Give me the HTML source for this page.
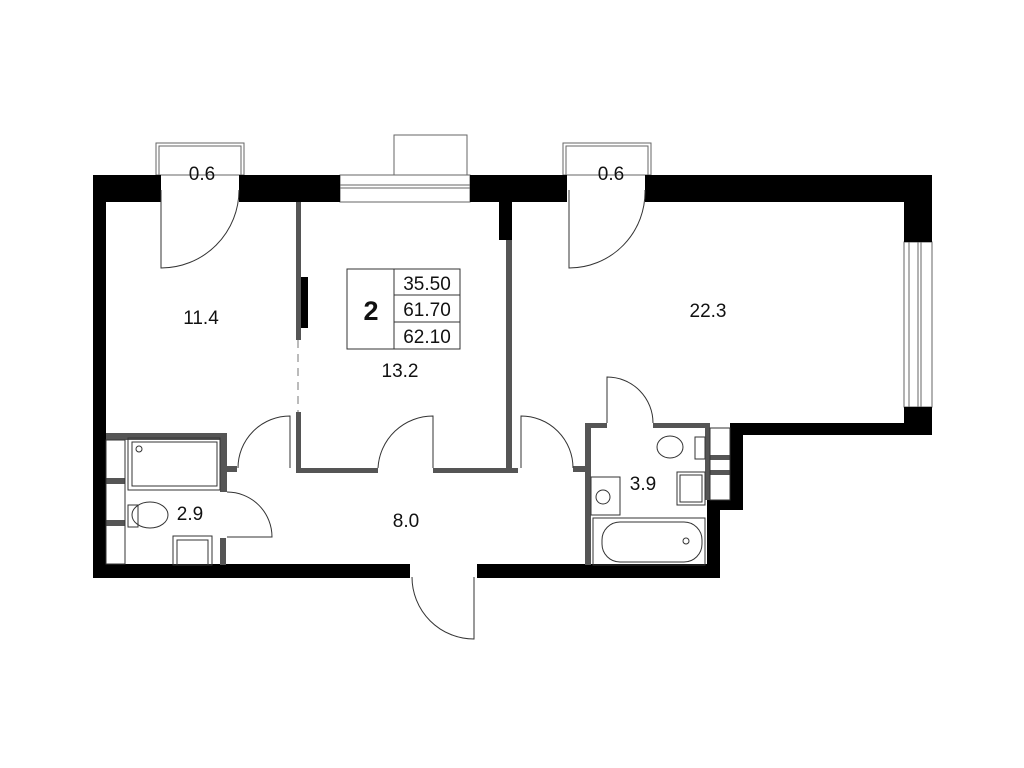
<!DOCTYPE html>
<html><head><meta charset="utf-8"><style>
html,body{margin:0;padding:0;background:#fff;width:1024px;height:768px;overflow:hidden}
text{font-family:"Liberation Sans",sans-serif;font-size:19px;fill:#111;text-anchor:middle}
</style></head><body>
<svg width="1024" height="768" viewBox="0 0 1024 768" xmlns="http://www.w3.org/2000/svg">
<g fill="none" stroke="#666" stroke-width="1">
<rect x="156" y="143" width="88" height="32"/><rect x="159" y="146" width="82" height="29"/>
<rect x="563" y="143" width="88" height="32"/><rect x="566" y="146" width="82" height="29"/>
<rect x="394" y="135" width="73" height="40"/>
<rect x="340" y="175" width="130" height="27"/>
<line x1="340" y1="185" x2="470" y2="185"/><line x1="340" y1="188" x2="470" y2="188"/>
<rect x="904" y="242" width="28" height="165"/>
<line x1="909" y1="242" x2="909" y2="407"/><line x1="918" y1="242" x2="918" y2="407"/><line x1="921" y1="242" x2="921" y2="407"/>
</g>
<g fill="#000">
<rect x="93" y="175" width="13" height="403"/>
<rect x="93" y="175" width="68" height="27"/>
<rect x="239" y="175" width="101" height="27"/>
<rect x="470" y="175" width="97" height="27"/>
<rect x="499" y="202" width="13" height="38"/>
<rect x="645" y="175" width="287" height="27"/>
<rect x="904" y="175" width="28" height="67"/>
<rect x="904" y="407" width="28" height="28"/>
<rect x="730" y="423" width="202" height="12"/>
<rect x="730" y="423" width="13" height="87"/>
<rect x="707" y="500" width="36" height="10"/>
<rect x="707" y="500" width="13" height="78"/>
<rect x="93" y="564" width="317" height="14"/>
<rect x="477" y="564" width="243" height="14"/>
<rect x="296" y="277" width="12" height="51"/>
</g>
<g fill="#555">
<rect x="296" y="202" width="5" height="138"/>
<rect x="296" y="412" width="5" height="61"/>
<rect x="296" y="468" width="82" height="5"/>
<rect x="433" y="468" width="85" height="5"/>
<rect x="506" y="240" width="6" height="233"/>
<rect x="106" y="433" width="121" height="7"/>
<rect x="220" y="433" width="7" height="59"/>
<rect x="227" y="466" width="10" height="6"/>
<rect x="220" y="538" width="6" height="27"/>
<rect x="573" y="466" width="12" height="6"/>
<rect x="585" y="423" width="6" height="142"/>
<rect x="585" y="423" width="22" height="5"/>
<rect x="653" y="423" width="54" height="5"/>
<rect x="705" y="423" width="5" height="77"/>
<rect x="106" y="478" width="19" height="6"/>
<rect x="106" y="520" width="19" height="6"/>
<rect x="710" y="455" width="20" height="5"/>
<rect x="710" y="470" width="20" height="5"/>
</g>
<line x1="298" y1="340" x2="298" y2="412" stroke="#777" stroke-width="1" stroke-dasharray="8,6"/>
<g fill="none" stroke="#333" stroke-width="1">
<path d="M161 190 V268 A78 78 0 0 0 239 190"/>
<path d="M569 190 V268 A76 76 0 0 0 645 190"/>
<path d="M290 468 V416 A52 52 0 0 0 238 468"/>
<path d="M433 468 V416 A55 55 0 0 0 378 468"/>
<path d="M521 468 V416 A52 52 0 0 1 573 468"/>
<path d="M227 492 A45 45 0 0 1 272 537 H227"/>
<path d="M607 423 V377 A46 46 0 0 1 653 423"/>
<path d="M474 577 V639 A62 62 0 0 1 412 577"/>
<rect x="128" y="438" width="92" height="52"/><rect x="132" y="442" width="85" height="44"/>
<circle cx="139" cy="449" r="3"/>
<ellipse cx="150" cy="515" rx="18" ry="13"/><rect x="128" y="505" width="10" height="22"/>
<rect x="173" y="536" width="39" height="29"/><rect x="177" y="540" width="31" height="25"/>
<rect x="591" y="477" width="29" height="38"/><circle cx="603" cy="497" r="7"/>
<rect x="593" y="518" width="112" height="47"/><rect x="602" y="522" width="100" height="40" rx="18"/>
<circle cx="686" cy="541" r="3"/>
<ellipse cx="670" cy="447" rx="13" ry="11"/><rect x="695" y="437" width="10" height="22"/>
<rect x="677" y="472" width="28" height="33"/><rect x="680" y="475" width="22" height="27"/>
<rect x="106" y="440" width="19" height="124"/>
<rect x="710" y="428" width="20" height="72"/>
<rect x="347" y="269" width="113" height="80"/>
<line x1="394" y1="269" x2="394" y2="349"/>
<line x1="394" y1="295" x2="460" y2="295"/><line x1="394" y1="322" x2="460" y2="322"/>
</g>
<text x="371" y="320" style="font-size:27px;font-weight:bold">2</text>
<text x="427" y="290">35.50</text>
<text x="427" y="316">61.70</text>
<text x="427" y="343">62.10</text>
<text x="202" y="180">0.6</text>
<text x="611" y="180">0.6</text>
<text x="201" y="324">11.4</text>
<text x="400" y="377">13.2</text>
<text x="708" y="317">22.3</text>
<text x="406" y="527">8.0</text>
<text x="643" y="490">3.9</text>
<text x="190" y="520">2.9</text>
</svg>
</body></html>
